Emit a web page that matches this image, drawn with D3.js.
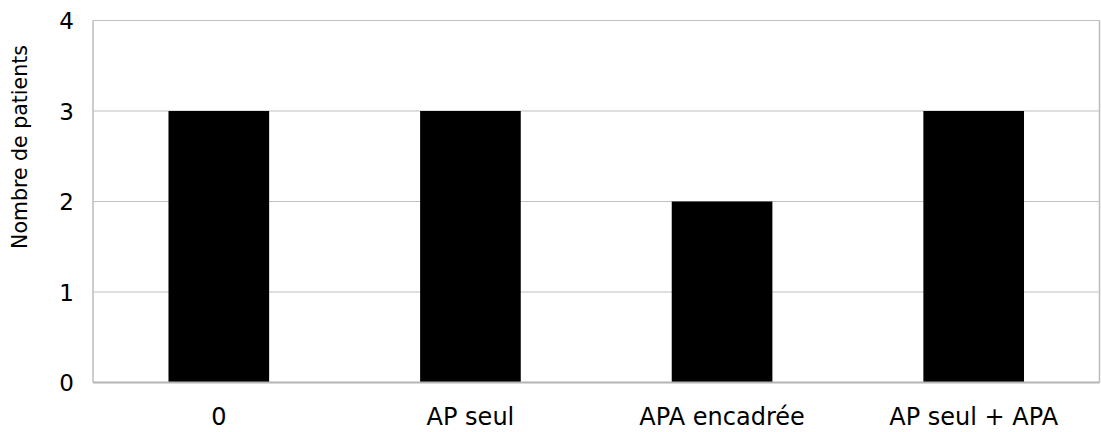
<!DOCTYPE html>
<html>
<head>
<meta charset="utf-8">
<script src="https://cdn.jsdelivr.net/npm/d3@7"></script>
<style>
  body { margin: 0; background: #fff; }
  text { font-family: "DejaVu Sans", sans-serif; fill: #000; }
</style>
</head>
<body>
<div id="chart"></div>
<script>
// chart data
var categories = ["0", "AP seul", "APA encadrée", "AP seul + APA"];
var patients = [3, 3, 2, 3];
var yTicks = [0, 1, 2, 3, 4];

var W = 1101, H = 432;
var margin = {top: 20.5, right: 1.5, bottom: 49.5, left: 93};
var width = W - margin.left - margin.right,
    height = H - margin.top - margin.bottom;

var svg = d3.select("#chart").append("svg")
    .attr("width", W)
    .attr("height", H);

var g = svg.append("g")
    .attr("transform", "translate(" + margin.left + "," + margin.top + ")");

var x = d3.scaleBand().domain(categories).range([0, width]).paddingInner(0.6).paddingOuter(0.3);
var y = d3.scaleLinear().domain([0, 4]).range([height, 0]);

// grid lines
g.selectAll(".grid")
    .data(yTicks.filter(function(d) { return d > 0; }))
    .enter().append("line")
    .attr("x1", 0).attr("x2", width)
    .attr("y1", function(d) { return y(d); })
    .attr("y2", function(d) { return y(d); })
    .style("stroke", "#c0c0c0")
    .style("stroke-width", 1.2);

// side borders
g.append("line").attr("x1", 0).attr("x2", 0).attr("y1", 0).attr("y2", height)
    .style("stroke", "#bcbcbc").style("stroke-width", 1.5);
g.append("line").attr("x1", width).attr("x2", width).attr("y1", 0).attr("y2", height)
    .style("stroke", "#bcbcbc").style("stroke-width", 1.5);

// bars
g.selectAll(".bar")
    .data(patients)
    .enter().append("rect")
    .attr("x", function(d, i) { return x(categories[i]); })
    .attr("y", function(d) { return y(d); })
    .attr("width", x.bandwidth())
    .attr("height", function(d) { return height - y(d); })
    .style("fill", "#000");

// x axis line
g.append("line").attr("x1", 0).attr("x2", width).attr("y1", height).attr("y2", height)
    .style("stroke", "#b4b4b4").style("stroke-width", 2);

// y tick labels
g.selectAll(".ylab")
    .data(yTicks)
    .enter().append("text")
    .text(function(d) { return d; })
    .attr("x", -19)
    .attr("y", function(d) { return y(d); })
    .attr("dy", "0.37em")
    .attr("text-anchor", "end")
    .style("font-size", "23px");

// x category labels
g.selectAll(".xlab")
    .data(categories)
    .enter().append("text")
    .text(function(d) { return d; })
    .attr("x", function(d) { return x(d) + x.bandwidth() / 2; })
    .attr("y", height + 42.5)
    .attr("text-anchor", "middle")
    .style("font-size", "24px");

// y axis title
svg.append("text")
    .text("Nombre de patients")
    .attr("transform", "translate(27,147) rotate(-90)")
    .attr("text-anchor", "middle")
    .style("font-size", "20.5px");
</script>
</body>
</html>
